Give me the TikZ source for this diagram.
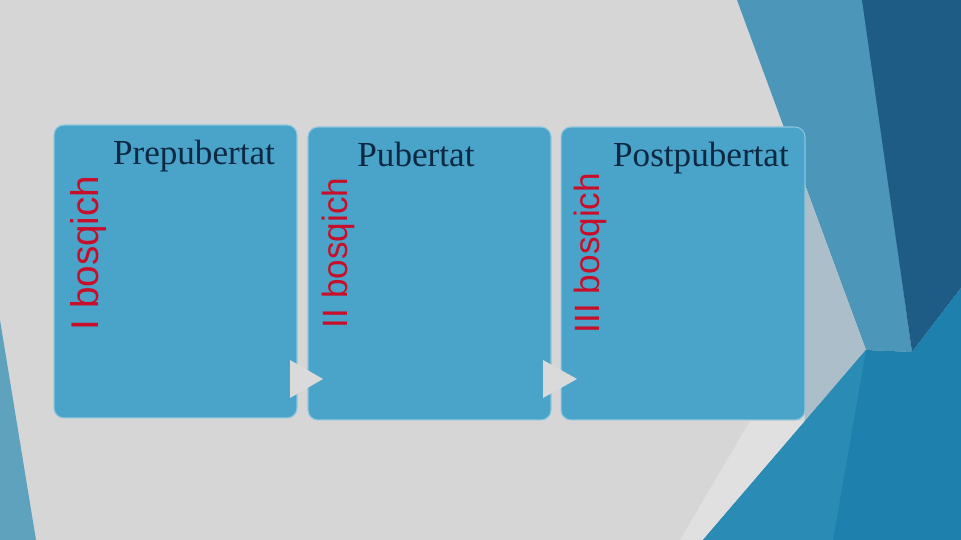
\documentclass[tikz,border=0pt]{standalone}
\usepackage{fontspec}
\setmainfont{Liberation Serif}
\newfontfamily\stagefont{Liberation Sans}
\usepackage{tikz}
\usetikzlibrary{positioning}

\definecolor{bggray}{RGB}{214,214,214}
\definecolor{leftteal}{RGB}{94,162,190}
\definecolor{steelband}{RGB}{76,150,186}
\definecolor{darkband}{RGB}{31,92,133}
\definecolor{palegray}{RGB}{172,190,201}
\definecolor{lightstrip}{RGB}{224,224,224}
\definecolor{deepblue}{RGB}{29,128,173}
\definecolor{midblue}{RGB}{42,139,181}
\definecolor{boxblue}{RGB}{74,163,200}
\definecolor{boxline}{RGB}{140,197,220}
\definecolor{headnavy}{RGB}{12,40,66}
\definecolor{stagered}{RGB}{200,14,40}
\definecolor{arrowgray}{RGB}{218,218,218}

\begin{document}
\begin{tikzpicture}[x=0.02cm, y=-0.02cm,
    stagebox/.style={draw=boxline, line width=0.6pt, fill=boxblue,
        rounded corners=0.2cm, minimum width=4.86cm, minimum height=5.86cm, inner sep=0pt},
    head/.style={font=\fontsize{20}{24}\selectfont, text=headnavy, anchor=base, inner sep=0pt},
    stagelabel/.style={font=\stagefont\fontsize{20}{24}\selectfont, text=stagered,
        rotate=90, anchor=base, inner sep=0pt},
    steparrow/.style={fill=arrowgray}]

    % Background
    \useasboundingbox (0,0) rectangle (961,540);
    \fill[bggray] (0,0) rectangle (961,540);
    \fill[leftteal] (0,320) -- (36,540) -- (0,540) -- cycle;

    % Bands on the right
    \fill[steelband] (737,0) -- (863,0) -- (912,352) -- (866,350) -- cycle;
    \fill[darkband] (862,0) -- (961,0) -- (961,288) -- (912,352) -- cycle;
    \fill[palegray] (792,150) -- (866,350) -- (805,421) -- cycle;
    \fill[lightstrip] (750,421) -- (805,421) -- (703,540) -- (680,540) -- cycle;
    \fill[deepblue] (703,540) -- (866,350) -- (912,352) -- (961,288) -- (961,540) -- cycle;
    \fill[midblue] (703,540) -- (866,350) -- (833,540) -- cycle;

    % Stage boxes
    \node[stagebox] (b1) at (175.5,271.5) {};
    \node[stagebox] (b2) at (429.5,273.5) {};
    \node[stagebox, minimum width=4.88cm] (b3) at (683,273.5) {};

    % Step arrows between the boxes
    \fill[steparrow] (290,360) -- (323,379) -- (290,398) -- cycle;
    \fill[steparrow] (543,360) -- (577,379) -- (543,398) -- cycle;

    % Headings
    \node[head] (h1) at (194,165) {Prepubertat};
    \node[head] (h2) at (416,167) {Pubertat};
    \node[head] (h3) at (701,167) {Postpubertat};

    % Stage labels
    \node[stagelabel, font=\stagefont\fontsize{22}{26}\selectfont] (s1) at (98,253) {I bosqich};
    \node[stagelabel] (s2) at (347,253) {II bosqich};
    \node[stagelabel] (s3) at (599,253) {III bosqich};

\end{tikzpicture}
\end{document}
